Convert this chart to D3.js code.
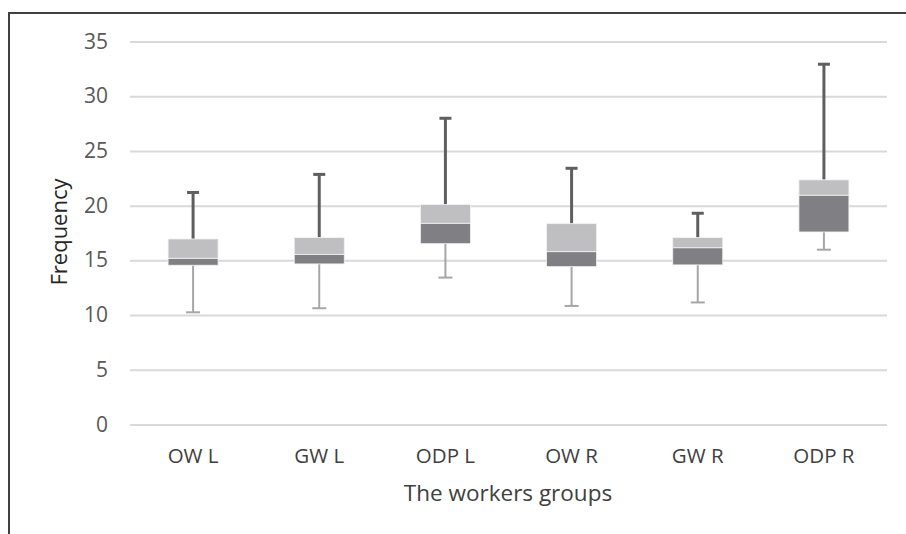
<!DOCTYPE html>
<html>
<head>
<meta charset="utf-8">
<script src="https://cdn.jsdelivr.net/npm/d3@7"></script>
<style>
  html, body { margin: 0; padding: 0; background: #fff; }
  svg { display: block; }
  text { font-family: "Open Sans", Lato, sans-serif; }
</style>
</head>
<body>
<svg id="chart" width="906" height="534"></svg>
<script>
// Frequency distribution per workers group (box-and-whisker summary)
const groups      = ["OW L", "GW L", "ODP L", "OW R", "GW R", "ODP R"];
const whiskerLow  = [10.3, 10.67, 13.47, 10.88, 11.2, 16.02];
const q1          = [14.6, 14.72, 16.57, 14.47, 14.63, 17.64];
const median      = [15.24, 15.6, 18.44, 15.84, 16.2, 21.0];
const q3          = [17.0, 17.12, 20.14, 18.4, 17.12, 22.4];
const whiskerHigh = [21.25, 22.9, 28.03, 23.46, 19.35, 32.97];
const yTicks      = [0, 5, 10, 15, 20, 25, 30, 35];

const rows = groups.map((g, i) => ({
  group: g, low: whiskerLow[i], q1: q1[i], med: median[i], q3: q3[i], high: whiskerHigh[i]
}));

const svg = d3.select("#chart");

// outer frame (top and left edges)
svg.append("path")
  .attr("d", "M9,540 L9,13 L906,13")
  .attr("fill", "none")
  .attr("stroke", "#404040")
  .attr("stroke-width", 2);

const x = d3.scaleBand().domain(groups).range([130, 887]).padding(0);
const y = d3.scaleLinear().domain([0, 35]).range([425, 42]);

// gridlines
svg.append("g").selectAll("line")
  .data(yTicks)
  .join("line")
  .attr("x1", 130).attr("x2", 887)
  .attr("y1", d => y(d)).attr("y2", d => y(d))
  .attr("stroke", "#d9d9d9")
  .attr("stroke-width", 2);

// y labels
const yAxis = d3.axisLeft(y).tickValues(yTicks).tickSize(0).tickPadding(0);
const gy = svg.append("g").attr("transform", "translate(108,0)").call(yAxis);
gy.select(".domain").remove();
gy.selectAll("text")
  .attr("font-size", 21)
  .attr("fill", "#595959")
  .attr("text-anchor", "end")
  .attr("dy", null)
  .attr("y", 6);

// x labels
const xAxis = d3.axisBottom(x).tickSize(0).tickPadding(0);
const gx = svg.append("g").attr("transform", "translate(0,463)").call(xAxis);
gx.select(".domain").remove();
gx.selectAll("text")
  .attr("font-size", 20.5)
  .attr("fill", "#404040")
  .attr("dy", null)
  .attr("y", 0);

const bw = 50;
const boxes = svg.append("g").selectAll("g")
  .data(rows)
  .join("g")
  .attr("transform", d => `translate(${x(d.group) + x.bandwidth() / 2},0)`);

// lower whisker
boxes.append("line")
  .attr("x1", 0).attr("x2", 0)
  .attr("y1", d => y(d.q1)).attr("y2", d => y(d.low))
  .attr("stroke", "#a6a6a6").attr("stroke-width", 2);
boxes.append("line")
  .attr("x1", -7).attr("x2", 7)
  .attr("y1", d => y(d.low)).attr("y2", d => y(d.low))
  .attr("stroke", "#a6a6a6").attr("stroke-width", 2);

// upper whisker
boxes.append("line")
  .attr("x1", 0).attr("x2", 0)
  .attr("y1", d => y(d.q3)).attr("y2", d => y(d.high))
  .attr("stroke", "#5f5f5f").attr("stroke-width", 3);
boxes.append("line")
  .attr("x1", -6).attr("x2", 6)
  .attr("y1", d => y(d.high)).attr("y2", d => y(d.high))
  .attr("stroke", "#5f5f5f").attr("stroke-width", 3);

// lower box segment (Q1 to median)
boxes.append("rect")
  .attr("x", -bw / 2).attr("width", bw)
  .attr("y", d => y(d.med))
  .attr("height", d => y(d.q1) - y(d.med))
  .attr("fill", "#808084")
  .attr("stroke", "#f2f2f2").attr("stroke-width", 0.8);

// upper box segment (median to Q3)
boxes.append("rect")
  .attr("x", -bw / 2).attr("width", bw)
  .attr("y", d => y(d.q3))
  .attr("height", d => y(d.med) - y(d.q3))
  .attr("fill", "#bfbfc2")
  .attr("stroke", "#f2f2f2").attr("stroke-width", 0.8);

// axis titles
svg.append("text")
  .attr("x", 508).attr("y", 501)
  .attr("text-anchor", "middle")
  .attr("font-size", 22.5)
  .attr("fill", "#404040")
  .text("The workers groups");

svg.append("text")
  .attr("transform", "translate(67,232) rotate(-90)")
  .attr("text-anchor", "middle")
  .attr("font-size", 22)
  .attr("fill", "#262626")
  .text("Frequency");
</script>
</body>
</html>
